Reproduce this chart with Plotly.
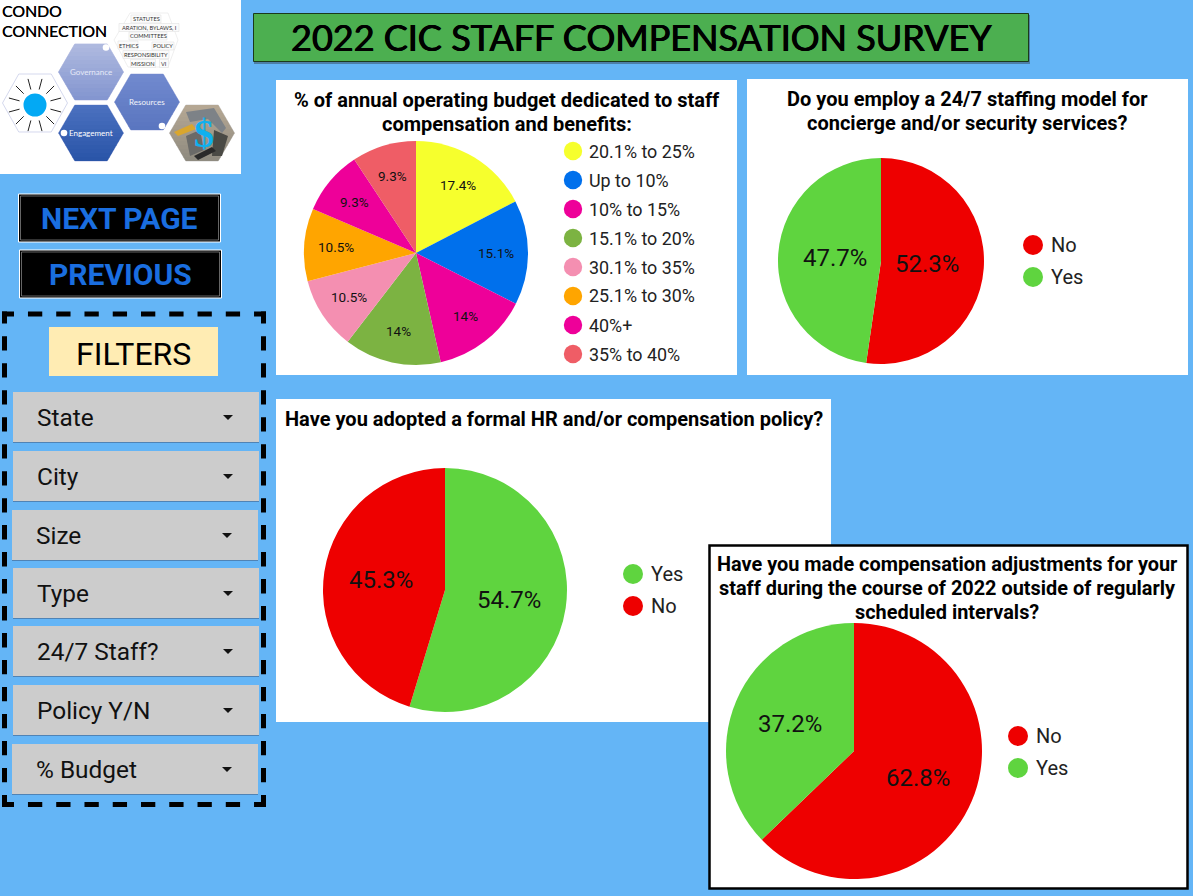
import math
import plotly.graph_objects as go

W, H = 1193, 896
BG = "#64b5f6"

labels1 = ["20.1% to 25%", "Up to 10%", "10% to 15%", "15.1% to 20%", "30.1% to 35%", "25.1% to 30%", "40%+", "35% to 40%"]
values1 = [17.4, 15.1, 14.0, 14.0, 10.5, 10.5, 9.3, 9.3]
text1 = ["17.4%", "15.1%", "14%", "14%", "10.5%", "10.5%", "9.3%", "9.3%"]
colors1 = ["#f6ff2d", "#0070ec", "#ee0099", "#7cb342", "#f48fb1", "#ffa500", "#ee0099", "#ef5d66"]

labels2 = ["No", "Yes"]
values2 = [52.3, 47.7]
labels3 = ["Yes", "No"]
values3 = [54.7, 45.3]
labels4 = ["No", "Yes"]
values4 = [62.8, 37.2]
RED = "#ee0000"
GREEN = "#5fd43f"
filters = ["State", "City", "Size", "Type", "24/7 Staff?", "Policy Y/N", "% Budget"]

fx = lambda x: x / W
fy = lambda y: 1 - y / H
shapes, anns = [], []


def rect(x0, y0, x1, y1, fill, line=None, lw=0, dash=None):
    shapes.append(dict(type="rect", xref="paper", yref="paper", x0=fx(x0), x1=fx(x1), y0=fy(y0), y1=fy(y1),
                       fillcolor=fill, line=dict(color=line or fill, width=lw, dash=dash or "solid")))


def seg(x0, y0, x1, y1, color="#000000", lw=1, dash="solid"):
    shapes.append(dict(type="line", xref="paper", yref="paper", x0=fx(x0), x1=fx(x1), y0=fy(y0), y1=fy(y1),
                       line=dict(color=color, width=lw, dash=dash)))


def text(x, y, s, size, color="#000000", bold=False, font="Roboto", anchor="center", shadow=None):
    f = dict(family=font, size=size, color=color)
    if shadow:
        f["shadow"] = shadow
    anns.append(dict(x=fx(x - 2 if anchor == "left" else x), y=fy(y), xref="paper", yref="paper",
                     text=f"<b>{s}</b>" if bold else s, showarrow=False,
                     xanchor=anchor, yanchor="middle", align="center", font=f))


def circle(cx, cy, r, fill, line=None, lw=0):
    shapes.append(dict(type="circle", xref="paper", yref="paper", x0=fx(cx - r), x1=fx(cx + r), y0=fy(cy + r), y1=fy(cy - r),
                       fillcolor=fill, line=dict(color=line or fill, width=lw)))


def poly(pts, fill, line=None, lw=0):
    path = "M " + " L ".join(f"{fx(a):.5f},{fy(b):.5f}" for a, b in pts) + " Z"
    shapes.append(dict(type="path", xref="paper", yref="paper", path=path, fillcolor=fill,
                       line=dict(color=line or fill, width=lw)))


def hexagon(cx, cy, rx, ry, top, bottom=None, line="#c5cae9", lw=1):
    poly([(cx - rx, cy), (cx - rx / 2, cy - ry), (cx + rx / 2, cy - ry), (cx + rx, cy), (cx + rx / 2, cy + ry), (cx - rx / 2, cy + ry)],
         top, line, lw)
    if bottom:
        n = 14
        t1 = [int(top[i:i + 2], 16) for i in (1, 3, 5)]
        t2 = [int(bottom[i:i + 2], 16) for i in (1, 3, 5)]
        half = lambda y: rx - (rx / 2) * abs(y - cy) / ry
        for k in range(n):
            ya = cy - ry + 2 * ry * k / n
            yb = cy - ry + 2 * ry * (k + 1) / n + .4
            yb = min(yb, cy + ry)
            c = "#" + "".join(f"{round(a + (b - a) * k / (n - 1)):02x}" for a, b in zip(t1, t2))
            pts = [(cx - half(ya), ya), (cx + half(ya), ya)]
            if ya < cy < yb:
                pts.append((cx + rx, cy))
            pts += [(cx + half(yb), yb), (cx - half(yb), yb)]
            if ya < cy < yb:
                pts.append((cx - rx, cy))
            poly(pts, c)


# logo
rect(0, 0, 241, 174, "#ffffff")
LOGO_SH = "0.2px 0 0 #000000"
text(2, 10, "CONDO", 15.8, font="Lato", anchor="left", shadow=LOGO_SH)
text(2, 30, "CONNECTION", 15.8, font="Lato", anchor="left", shadow=LOGO_SH)

hexagon(35, 103, 32.5, 29, "#ffffff", line="#d5d9ee")
circle(35, 105, 11.5, "#03a9f4")
for ang in range(15, 360, 30):
    a = math.radians(ang)
    seg(35 + 16 * math.sin(a), 105 - 16 * math.cos(a), 35 + 27 * math.sin(a), 105 - 27 * math.cos(a), "#222222", 1)
hexagon(91, 72, 32.5, 28, "#aeb9df", "#8496d0")
hexagon(147, 102, 32.5, 28, "#7189ce", "#5a76c0")
hexagon(91, 133, 32.5, 28, "#4a70bf", "#2a55a8")
hexagon(202, 133, 32.5, 28, "#b5a793", "#8f8b80", line="#d8d8d8")
circle(106, 47.5, 3.3, "#ffffff")
circle(162, 126, 3.3, "#ffffff")
circle(64, 133, 3.3, "#ffffff")
# photo collage inside the hexagon
poly([(186, 112), (214, 108), (226, 128), (222, 133), (208, 119), (190, 122)], "#7d8287")
poly([(174, 132), (192, 124), (196, 129), (178, 136)], "#d9a62e")
poly([(186, 136), (200, 130), (204, 150), (190, 156)], "#6a6a68")
poly([(214, 130), (228, 136), (222, 156), (212, 156)], "#4a4a45")
poly([(194, 156), (212, 147), (216, 151), (198, 160)], "#2a2a2a")
text(91, 72, "Governance", 8, "#e6eaf8", font="Lato")
text(147, 102, "Resources", 8, "#f2f4fb", font="Lato")
text(91, 133, "Engagement", 8, "#ffffff", font="Lato")
text(204, 133, "$", 40, "#0fb0ee", bold=True, font="Liberation Serif")
poly([(130, 13), (168, 13), (178, 40), (168, 67), (128, 67), (114, 40)], "#ffffff", "#e4e4e4", 0.6)
for (tx, ty, tw, s) in [(146, 19, 30, "STATUTES"), (149, 27.5, 60, "ARATION, BYLAWS, I"), (148, 36, 38, "COMMITTEES"), (128, 45, 20, "ETHICS"),
                        (163, 46, 22, "POLICY"), (146, 54.5, 46, "RESPONSIBILITY"), (143, 63.5, 25, "MISSION"), (164, 63.5, 9, "VI")]:
    rect(tx - tw / 2, ty - 4, tx + tw / 2, ty + 4, "#fbfbfb", "#e2e2e2", .6)
    text(tx, ty, s, 5.7, "#333333", font="Lato")

# title
rect(254, 15, 1030, 64, "#4d7fa8")
rect(253.5, 13.5, 1028.5, 61.5, "#4caf50", "#1b3a1c", 1)
text(641, 37, "2022 CIC STAFF COMPENSATION SURVEY", 36, font="Lato", shadow="0.5px 0 0 #000000, -0.5px 0 0 #000000")

# nav buttons
for (x0, y0, x1, y1, s) in [(18.5, 194, 220.5, 242, "NEXT PAGE"), (19.5, 250, 221.5, 298, "PREVIOUS")]:
    rect(x0, y0, x1, y1, "#000000", "#ffffff", 1)
    rect(x0 + 2, y0 + 2, x1 - 2, y1 - 2, "#000000", "#aaaaaa", .6)
    text((x0 + x1) / 2, (y0 + y1) / 2 + 1, s, 30, "#1a6ee0", bold=True)


# filter panel: dashed frame with corner brackets
def dashes(length, corner=12.0, dash=14.3, gap=14.1):
    n = int((length - 2 * corner + gap) // (dash + gap))
    g = (length - 2 * corner - n * dash) / (n + 1)
    parts = [corner, g]
    for _ in range(n):
        parts += [dash, g]
    parts.append(corner)
    return ",".join(f"{p:.2f}px" for p in parts)


L, R, T, B = 4.5, 263.5, 314, 804.5
hd, vd = dashes(R - L + 5), dashes(B - T + 5)
seg(L - 2.5, T, R + 2.5, T, lw=5, dash=hd)
seg(L - 2.5, B, R + 2.5, B, lw=5, dash=hd)
seg(L, T - 2.5, L, B + 2.5, lw=5, dash=vd)
seg(R, T - 2.5, R, B + 2.5, lw=5, dash=vd)

rect(49, 327, 218, 376, "#ffecb3")
text(133, 354, "FILTERS", 32)
ys = [392, 451, 510, 568, 626, 685, 744]
xs = [13, 13, 12, 13, 13, 13, 12]
for s, y0, x0 in zip(filters, ys, xs):
    rect(x0, y0 + 2, x0 + 246, y0 + 51, "#4f83b5")
    rect(x0, y0, x0 + 246, y0 + 50, "#cccccc")
    text(x0 + 24, y0 + 25, s, 24.4, "#111111", anchor="left")
    cx, cy = x0 + 215, y0 + 25
    poly([(cx - 5, cy - 2), (cx + 5, cy - 2), (cx, cy + 3)], "#111111")

# cards
rect(276, 80, 737, 375, "#ffffff")
rect(747, 79, 1188, 375, "#ffffff")
rect(276, 399, 831, 722, "#ffffff")
rect(709.5, 545.5, 1187.5, 888.5, "#ffffff", "#000000", 2.5)

TS = 20
text(507, 100, "% of annual operating budget dedicated to staff", TS, bold=True)
text(507, 124, "compensation and benefits:", TS, bold=True)
text(967.5, 99, "Do you employ a 24/7 staffing model for", TS, bold=True)
text(967.5, 123, "concierge and/or security services?", TS, bold=True)
text(553.5, 419, "Have you adopted a formal HR and/or compensation policy?", TS, bold=True)
text(947, 564, "Have you made compensation adjustments for your", 19.9, bold=True)
text(947, 588, "staff during the course of 2022 outside of regularly", 19.9, bold=True)
text(947, 612, "scheduled intervals?", 19.9, bold=True)


def pie(labels, values, colors, cx, cy, r, size, rho, txt=None):
    txt = txt if txt else [f"{v}%" for v in values]
    # data labels sit at a fixed radius on each slice's mid angle
    total, run = sum(values), 0.0
    for v, t in zip(values, txt):
        a = 2 * math.pi * (run + v / 2) / total
        run += v
        text(cx + rho * math.sin(a), cy - rho * math.cos(a), t, size, "#111111")
    return go.Pie(labels=labels, values=values, sort=False, direction="clockwise", rotation=0,
                  domain=dict(x=[fx(cx - r), fx(cx + r)], y=[fy(cy + r), fy(cy - r)]),
                  marker=dict(colors=colors, line=dict(width=0)),
                  text=txt, textinfo="none", showlegend=False, hoverinfo="label+text")


fig = go.Figure([
    pie(labels1, values1, colors1, 416, 253, 112, 13.5, 80, text1),
    pie(labels2, values2, [RED, GREEN], 881, 261, 103, 24, 46),
    pie(labels3, values3, [GREEN, RED], 445, 590, 122, 24, 65),
    pie(labels4, values4, [RED, GREEN], 854, 751, 128, 24, 70),
])


def legend(labels, colors, x, y0, step, size, r, off):
    for i, (l, c) in enumerate(zip(labels, colors)):
        circle(x, y0 + i * step, r, c)
        text(x + off, y0 + i * step, l, size, "#222222", anchor="left")


legend(labels1, colors1, 573, 151, 29, 17.9, 9.2, 16)
legend(labels2, [RED, GREEN], 1033, 245, 32, 20, 10, 18)
legend(labels3, [GREEN, RED], 633, 574, 32, 20, 10, 18)
legend(labels4, [RED, GREEN], 1018, 736, 32, 20, 10, 18)

fig.update_layout(width=W, height=H, margin=dict(l=0, r=0, t=0, b=0), paper_bgcolor=BG, plot_bgcolor=BG,
                  shapes=[dict(s, layer="below") for s in shapes], annotations=anns, showlegend=False)
fig.write_html("out.html", config=dict(displayModeBar=False),
               post_script="document.body.style.margin='0';document.body.style.overflow='hidden';")
